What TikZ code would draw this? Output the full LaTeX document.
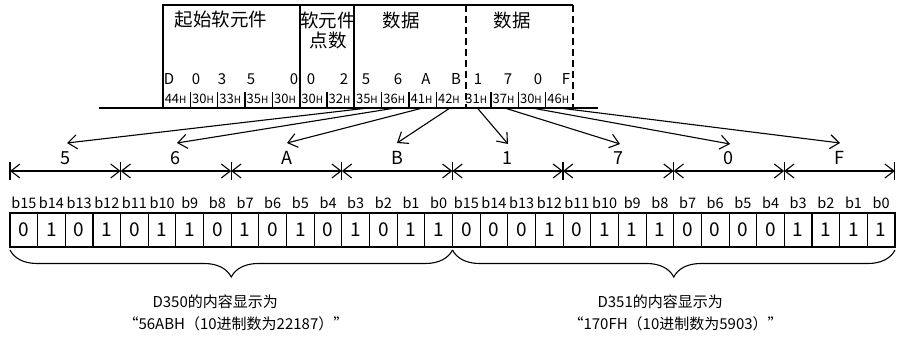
\documentclass[tikz,border=0pt]{standalone}
\usepackage{fontspec}
\setmainfont{Noto Sans CJK SC}
\usetikzlibrary{arrows.meta,decorations.pathreplacing}
\begin{document}
\begin{tikzpicture}[x=1pt,y=-1pt,line width=1.1pt,
  hdr/.style={font=\fontsize{18.5}{21}\selectfont, inner sep=0pt},
  chr/.style={font=\fontsize{15}{16}\selectfont, inner sep=0pt},
  hex/.style={font=\fontsize{13}{14}\selectfont, inner sep=0pt, anchor=west},
  arr/.style={-{Straight Barb[length=9pt,width=14pt]}},
  dimline/.style={{Straight Barb[length=9pt,width=14pt]}-{Straight Barb[length=9pt,width=14pt]}},
  dimlab/.style={font=\fontsize{18}{20}\selectfont, inner sep=0pt},
  bitlab/.style={font=\fontsize{14.5}{16}\selectfont, inner sep=0pt},
  bitbox/.style={draw, minimum width=27.656pt, minimum height=34pt, inner sep=0pt, font=\fontsize{19}{21}\selectfont},
  note/.style={font=\fontsize{15}{17}\selectfont, inner sep=0pt, anchor=west},
  dsh/.style={dash pattern=on 7pt off 4pt}
]
\useasboundingbox (0,0) rectangle (901,339);
\newcommand{\hh}{{\fontsize{10}{10}\selectfont H}}
\newcommand{\myLq}{\makebox[1em][r]{“}}
\newcommand{\myRq}{\makebox[1em][l]{”}}
% header frame
\draw (163,108) -- (163,5) -- (573,5);
\draw[line width=2pt] (300,5) -- (300,108);
\draw (354,5) -- (354,108);
\draw[dsh] (466,5) -- (466,108);
\draw[dsh] (573,5) -- (573,108);
\draw (99,108) -- (598,108);
% header titles
\node[hdr] (t1) at (221,20) {起始软元件};
\node[hdr] (t2) at (328,20) {软元件};
\node[hdr] (t3) at (328,40) {点数};
\node[hdr] (t4) at (401,20) {数据};
\node[hdr] (t5) at (512,20) {数据};
% character row
\foreach \c/\x [count=\i] in {D/169,0/196,3/222,5/251,0/294,0/311,2/344,5/366,6/398,A/426,B/456,1/478,7/508,0/538,F/566}
  \node[chr] (c\i) at (\x,79) {\c};
% hex row separators
\foreach \i in {1,2,3,4,6,8,9,10,12,13,14}
  \draw ({163+27.33*\i},92) -- ({163+27.33*\i},108);
% hex labels
\foreach \h [count=\i from 0] in {44,30,33,35,30,30,32,35,36,41,42,31,37,30,46}{
  \node[hex] (hx\i) at ({163+27.33*\i+1.2},99) {\h\hh};
  \coordinate (s\i) at ({163+27.33*\i+13.7},108);
}
% arrow tips
\coordinate (a1) at (67,143);
\coordinate (a2) at (177,143);
\coordinate (a3) at (287,143);
\coordinate (a4) at (397,143);
\coordinate (a5) at (508,144);
\coordinate (a6) at (620,144);
\coordinate (a7) at (730,144);
\coordinate (a8) at (840,143);
\draw[arr] (s7) -- (a1);
\draw[arr] (s8) -- (a2);
\draw[arr] (s9) -- (a3);
\draw[arr] (s10) -- (a4);
\draw[arr] (s11) -- (a5);
\draw[arr] (s12) -- (a6);
\draw[arr] (s13) -- (a7);
\draw[arr] (s14) -- (a8);
% dimension line
\foreach \k in {0,...,8}{
  \coordinate (d\k) at ({10+110.6*\k},171);
  \draw ({10+110.6*\k},162) -- ({10+110.6*\k},180);
}
\foreach \k/\l [evaluate=\k as \kn using int(\k+1)] in {0/5,1/6,2/A,3/B,4/1,5/7,6/0,7/F}{
  \draw[dimline] (d\k) -- (d\kn);
  \node[dimlab] (L\k) at ({10+110.6*\k+55.3},158) {\l};
}
% bits
\foreach \v [count=\i from 0] in {0,1,0,1,0,1,1,0,1,0,1,0,1,0,1,1,0,0,0,1,0,1,1,1,0,0,0,0,1,1,1,1}{
  \node[bitbox] (b\i) at ({10+27.656*\i+13.828},230) {\v};
}
\foreach \n [count=\i from 0] in {15,14,13,12,11,10,9,8,7,6,5,4,3,2,1,0,15,14,13,12,11,10,9,8,7,6,5,4,3,2,1,0}{
  \node[bitlab] (bl\i) at ({10+27.656*\i+13.828},203) {b\n};
}
% braces
\draw[decorate, decoration={brace, mirror, amplitude=27pt}] (10,250) -- (452.5,250);
\draw[decorate, decoration={brace, mirror, amplitude=27pt}] (452.5,250) -- (895,250);
% notes
\node[note] (n1) at (152,302) {D350的内容显示为};
\node[note] (n2) at (123,324) {\myLq 56ABH（10进制数为22187）\myRq};
\node[note] (n3) at (597,302) {D351的内容显示为};
\node[note] (n4) at (568,324) {\myLq 170FH（10进制数为5903）\myRq};
\end{tikzpicture}
\end{document}
